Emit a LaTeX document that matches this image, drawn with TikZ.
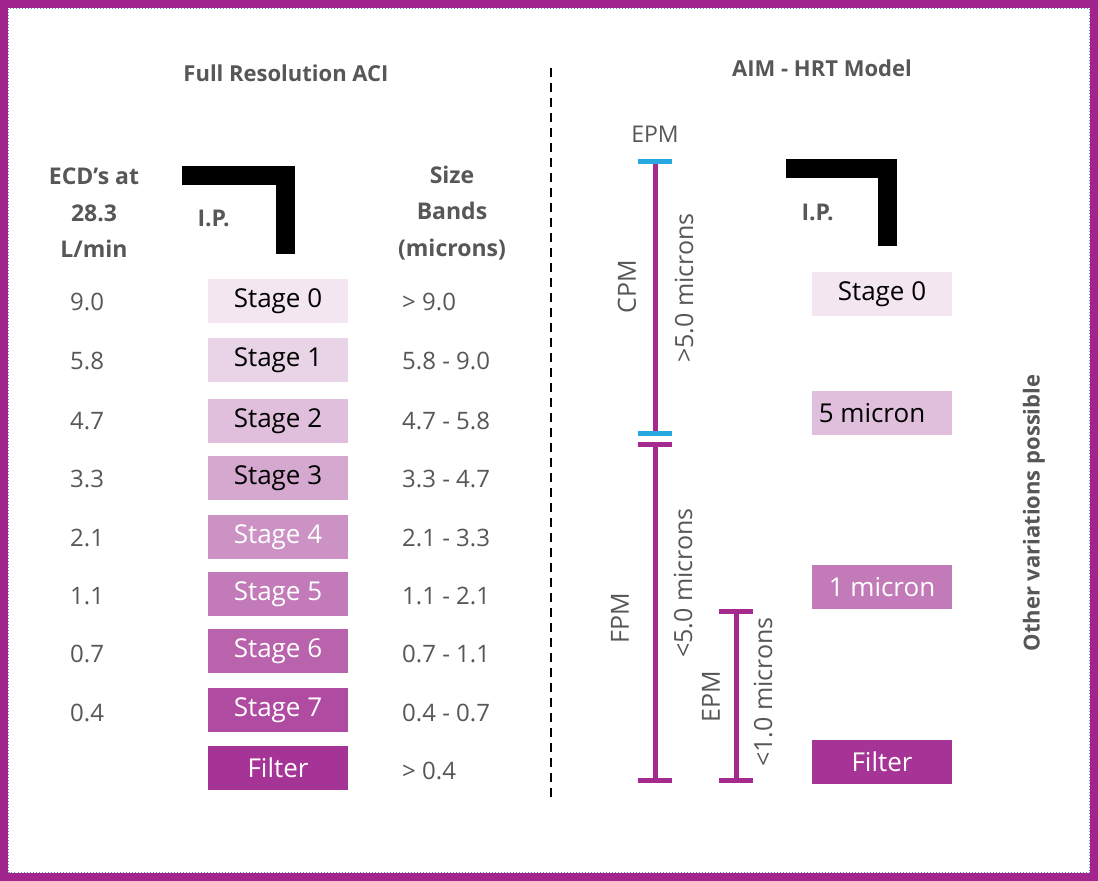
\documentclass[tikz,border=0pt]{standalone}
\usepackage{fontspec}
\setmainfont{Open Sans}
\definecolor{frameP}{HTML}{A2248D}
\definecolor{dotB}{HTML}{6A8FD0}
\definecolor{barP}{HTML}{A52A8F}
\definecolor{capC}{HTML}{29A8E0}
\definecolor{txtG}{HTML}{575757}
\definecolor{c0}{HTML}{F3E6F1}
\definecolor{c1}{HTML}{E9D3E6}
\definecolor{c2}{HTML}{DFBFDB}
\definecolor{c3}{HTML}{D5A9CF}
\definecolor{c4}{HTML}{CB92C3}
\definecolor{c5}{HTML}{C27BB8}
\definecolor{c6}{HTML}{B963AC}
\definecolor{c7}{HTML}{AF4BA1}
\definecolor{c8}{HTML}{A63396}
\begin{document}
\begin{tikzpicture}[x=1pt,y=-1pt,
  stagebox/.style={minimum width=140pt,minimum height=44pt,inner sep=0pt,font=\fontsize{26}{28}\selectfont},
  dk/.style={text=black},
  lt/.style={text=white},
  numtxt/.style={anchor=west,inner sep=0pt,text=txtG,font=\fontsize{24}{26}\selectfont},
  headtxt/.style={align=center,text=txtG,font=\fontsize{23}{36.5}\selectfont\bfseries},
  titletxt/.style={text=txtG,font=\fontsize{22}{24}\selectfont\bfseries},
  rottxt/.style={rotate=90,inner sep=0pt,text=txtG,font=\fontsize{25}{27}\selectfont},
  ipbar/.style={line width=19pt,line join=miter,black},
  bar/.style={line width=5pt,barP},
  capP/.style={line width=5pt,barP},
  capB/.style={line width=5pt,capC}]
\useasboundingbox (0,0) rectangle (1098,881);
\fill[white] (0,0) rectangle (1098,881);
\draw[frameP,line width=8pt] (4,4) rectangle (1094,877);
\draw[dotB,line width=1pt,dotted] (8.5,8.5) rectangle (1089.5,872.5);

% titles
\node[titletxt] (t1) at (286,73) {Full Resolution ACI};
\node[titletxt] (t2) at (822,68) {AIM - HRT Model};

% divider
\coordinate (dtop) at (551,68);
\coordinate (dbot) at (551,797);
\draw[black,line width=2.5pt,dash pattern=on 9pt off 6pt] (dtop) -- (dbot);

% left headers
\node[headtxt] (ecd) at (94,213) {ECD’s at\\28.3\\L/min};
\node[headtxt] (sb) at (452,213) {Size\\Bands\\(microns)};
\node[headtxt,anchor=west] (ip1) at (194,218) {I.P.};
\draw[ipbar] (182,175) -- (285,175) -- (285,254);

% stages
\node[stagebox,fill=c0,dk] (s0) at (278,301) {Stage 0};
\node[stagebox,fill=c1,dk] (s1) at (278,360) {Stage 1};
\node[stagebox,fill=c2,dk] (s2) at (278,421) {Stage 2};
\node[stagebox,fill=c3,dk] (s3) at (278,478) {Stage 3};
\node[stagebox,fill=c4,lt] (s4) at (278,537) {Stage 4};
\node[stagebox,fill=c5,lt] (s5) at (278,594) {Stage 5};
\node[stagebox,fill=c6,lt] (s6) at (278,651) {Stage 6};
\node[stagebox,fill=c7,lt] (s7) at (278,710) {Stage 7};
\node[stagebox,fill=c8,lt] (s8) at (278,768) {Filter};

% ECD values
\node[numtxt] (e0) at (70,302) {9.0};
\node[numtxt] (e1) at (70,361) {5.8};
\node[numtxt] (e2) at (70,421) {4.7};
\node[numtxt] (e3) at (70,479) {3.3};
\node[numtxt] (e4) at (70,538) {2.1};
\node[numtxt] (e5) at (70,596) {1.1};
\node[numtxt] (e6) at (70,654) {0.7};
\node[numtxt] (e7) at (70,713) {0.4};

% size bands
\node[numtxt] (b0) at (402,302) {> 9.0};
\node[numtxt] (b1) at (402,361) {5.8 - 9.0};
\node[numtxt] (b2) at (402,421) {4.7 - 5.8};
\node[numtxt] (b3) at (402,479) {3.3 - 4.7};
\node[numtxt] (b4) at (402,538) {2.1 - 3.3};
\node[numtxt] (b5) at (402,596) {1.1 - 2.1};
\node[numtxt] (b6) at (402,654) {0.7 - 1.1};
\node[numtxt] (b7) at (402,713) {0.4 - 0.7};
\node[numtxt] (b8) at (402,771) {> 0.4};

% right: bars
\node[text=txtG,font=\fontsize{23}{25}\selectfont] (epm1) at (655,134) {EPM};
\coordinate (c1t) at (655,161);
\coordinate (c1b) at (655,433);
\coordinate (c2t) at (655,444);
\coordinate (c2b) at (655,780);
\coordinate (c3t) at (736,611);
\coordinate (c3b) at (736,780);
\draw[bar] (c1t) -- (c1b);
\draw[bar] (c2t) -- (c2b);
\draw[bar] (c3t) -- (c3b);
\draw[capB] ([xshift=-17pt]c1t) -- ([xshift=17pt]c1t);
\draw[capB] ([xshift=-17pt]c1b) -- ([xshift=17pt]c1b);
\draw[capP] ([xshift=-17pt]c2t) -- ([xshift=17pt]c2t);
\draw[capP] ([xshift=-17pt]c2b) -- ([xshift=17pt]c2b);
\draw[capP] ([xshift=-17pt]c3t) -- ([xshift=17pt]c3t);
\draw[capP] ([xshift=-17pt]c3b) -- ([xshift=17pt]c3b);

\node[rottxt] (cpm) at (627,287) {CPM};
\node[rottxt] (gt5) at (684,288) {>5.0 microns};
\node[rottxt] (fpm) at (620,618) {FPM};
\node[rottxt] (lt5) at (683,583) {<5.0 microns};
\node[rottxt] (epm2) at (711,697) {EPM};
\node[rottxt] (lt1) at (763,692) {<1.0 microns};

% right I.P.
\node[headtxt,anchor=west] (ip2) at (798,212) {I.P.};
\draw[ipbar] (786,168) -- (887.5,168) -- (887.5,246);

% right boxes
\node[stagebox,fill=c0,dk] (r0) at (882,294) {Stage 0};
\node[stagebox,fill=c2,dk] (r1) at (882,413) {\hspace*{-20pt}5 micron};
\node[stagebox,fill=c5,lt] (r2) at (882,587) {1 micron};
\node[stagebox,fill=c8,lt] (r3) at (882,762) {Filter};

\node[titletxt,rotate=90] (ovp) at (1034,513) {Other variations possible};
\end{tikzpicture}
\end{document}
